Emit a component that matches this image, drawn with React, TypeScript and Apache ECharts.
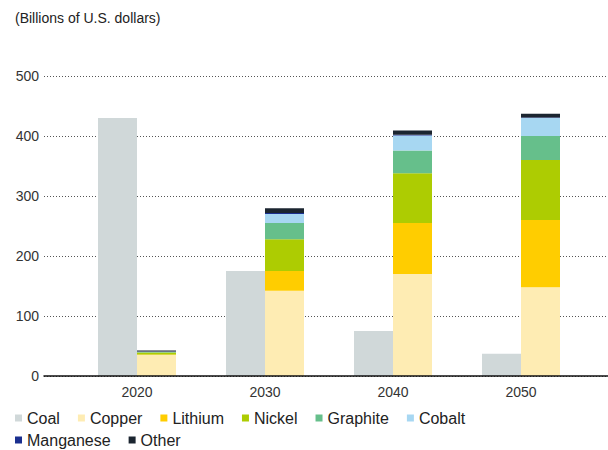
import React, { useEffect, useRef } from "react";
import * as echarts from "echarts";

const years = ["2020", "2030", "2040", "2050"];
const coal = [430, 175, 75, 37];
const copper = [35, 142, 170, 148];
const lithium = [1, 33, 85, 112];
const nickel = [3, 53, 83, 100];
const graphite = [1, 27, 38, 40];
const cobalt = [0.5, 15, 25, 30];
const manganese = [0.5, 1.5, 1, 1];
const other = [1.5, 8, 7, 6];
const yTicks = [0, 100, 200, 300, 400, 500];

const FONT = "'Liberation Sans', Arial, sans-serif";

export default function App() {
  const ref = useRef<HTMLDivElement>(null);
  useEffect(() => {
    const chart = echarts.init(ref.current!, null, { renderer: "svg" });
    const stackSeries = [
      { name: "Copper", data: copper, color: "#feecb3" },
      { name: "Lithium", data: lithium, color: "#ffcd00" },
      { name: "Nickel", data: nickel, color: "#adcc02" },
      { name: "Graphite", data: graphite, color: "#66bf8b" },
      { name: "Cobalt", data: cobalt, color: "#a7d7f2" },
      { name: "Manganese", data: manganese, color: "#1a2f8f" },
      { name: "Other", data: other, color: "#1b2530" },
    ];
    const legendCommon = {
      left: 15,
      itemWidth: 7,
      itemHeight: 7,
      itemGap: 18,
      icon: "rect",
      padding: 0,
      textStyle: { fontSize: 16, color: "#222", fontFamily: FONT },
    };
    chart.setOption({
      animation: false,
      textStyle: { fontFamily: FONT },
      title: {
        text: "(Billions of U.S. dollars)",
        left: 15,
        top: 11,
        padding: 0,
        textStyle: { fontSize: 14, fontWeight: "normal", color: "#222", fontFamily: FONT },
      },
      legend: [
        { ...legendCommon, top: 410, data: ["Coal", "Copper", "Lithium", "Nickel", "Graphite", "Cobalt"] },
        { ...legendCommon, top: 432, data: ["Manganese", "Other"] },
      ],
      grid: [
        { left: 44, right: 0, top: 76, bottom: 74 },
        { left: 73, right: 23, top: 76, bottom: 74 },
      ],
      xAxis: [
        {
          type: "category",
          gridIndex: 0,
          data: [""],
          axisLine: { show: true, lineStyle: { color: "#111", width: 1.5 } },
          axisTick: { show: false },
          axisLabel: { show: false },
          z: 10,
        },
        {
          type: "category",
          gridIndex: 1,
          data: years,
          axisLine: { show: false },
          axisTick: { show: false },
          axisLabel: { color: "#333", fontSize: 14, margin: 9, fontFamily: FONT },
        },
      ],
      yAxis: [
        {
          type: "value",
          gridIndex: 0,
          min: yTicks[0],
          max: yTicks[yTicks.length - 1],
          interval: 100,
          axisLine: { show: false },
          axisTick: { show: false },
          axisLabel: { color: "#333", fontSize: 14, margin: 5, fontFamily: FONT },
          splitLine: { lineStyle: { type: [1, 2], color: "#555", width: 1 } },
        },
        {
          type: "value",
          gridIndex: 1,
          min: 0,
          max: 500,
          show: false,
          splitLine: { show: false },
        },
      ],
      series: [
        {
          name: "Coal",
          type: "bar",
          xAxisIndex: 1,
          yAxisIndex: 1,
          stack: "coal",
          data: coal,
          barWidth: 39,
          barGap: "0%",
          itemStyle: { color: "#d0d8d9" },
        },
        ...stackSeries.map((s) => ({
          name: s.name,
          type: "bar",
          xAxisIndex: 1,
          yAxisIndex: 1,
          stack: "minerals",
          data: s.data,
          barWidth: 39,
          barGap: "0%",
          itemStyle: { color: s.color },
        })),
      ],
    });
    return () => chart.dispose();
  }, []);
  return <div ref={ref} style={{ width: 608, height: 450, position: "absolute", left: 0, top: 0 }} />;
}
